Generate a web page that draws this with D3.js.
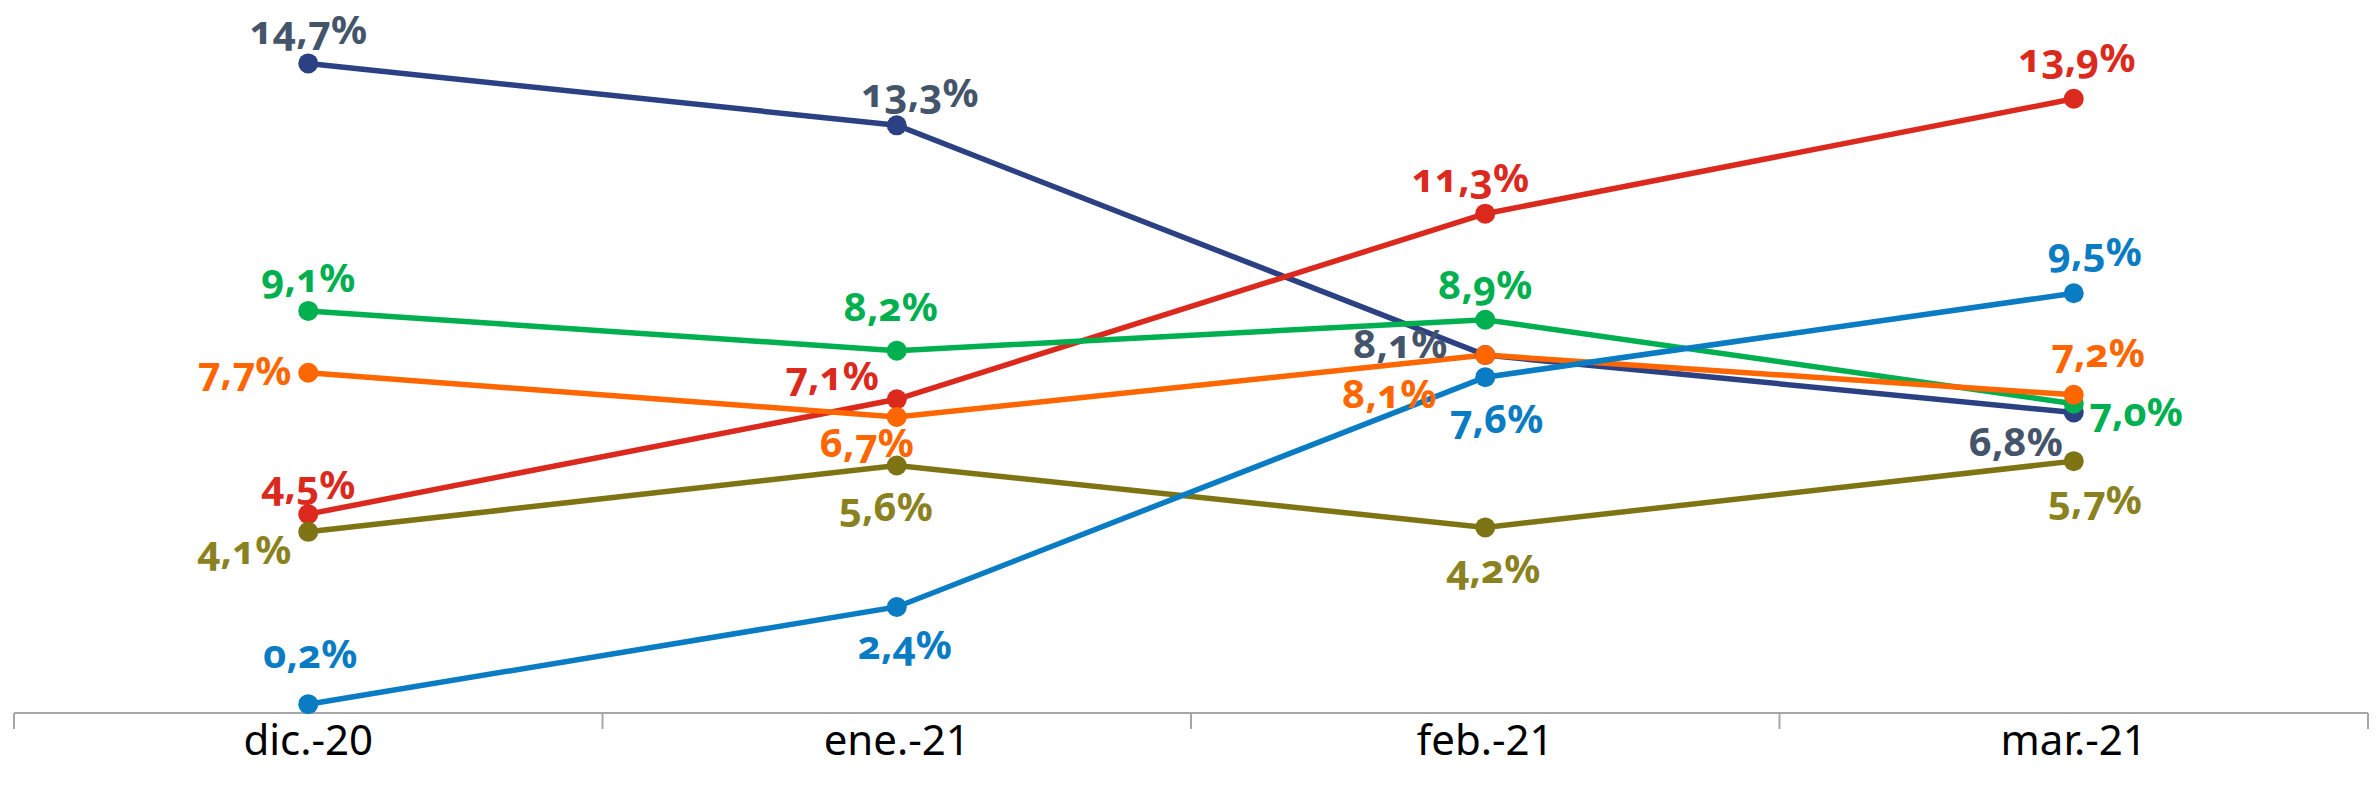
<!DOCTYPE html>
<html><head><meta charset="utf-8">
<script src="https://cdn.jsdelivr.net/npm/d3@7"></script>
<style>
html,body{margin:0;padding:0;background:#fff;}
svg{display:block;}
.lbl{font-family:"Noto Sans","Open Sans",sans-serif;font-weight:bold;font-feature-settings:"onum" 1;font-variant-numeric:oldstyle-nums;}
.ax{font-family:"Noto Sans","Open Sans",sans-serif;}
</style></head><body>
<script>
const categories = ["dic.-20","ene.-21","feb.-21","mar.-21"];
const navyValues   = [14.7, 13.3, 8.1, 6.8];
const redValues    = [4.5, 7.1, 11.3, 13.9];
const greenValues  = [9.1, 8.2, 8.9, 7.0];
const orangeValues = [7.7, 6.7, 8.1, 7.2];
const oliveValues  = [4.1, 5.6, 4.2, 5.7];
const blueValues   = [0.2, 2.4, 7.6, 9.5];
const lineColors  = ["#2b4183","#dc291e","#00b050","#ff6600","#7f7414","#0a7cc3"];
const labelColors = ["#44546a","#dc291e","#00b050","#ff6600","#8a8220","#0a7cc3"];
// label offsets from each point (layout only, not data): [dx, dy of text baseline]
const labelOffsets = [
  [[0,-19],[23,-18],[-85,3],[-58,43]],
  [[0,-15],[-65,-9],[-15,-22],[3,-27]],
  [[0,-19],[-6,-30],[0,-21],[62,22]],
  [[-64,12],[-30,40],[-96,53],[24,-28]],
  [[-64,32],[-11,55],[8,56],[21,53]],
  [[2,-36],[8,52],[11,56],[21,-27]]
];

const W = 2379, H = 796;
const series = [navyValues, redValues, greenValues, orangeValues, oliveValues, blueValues];

const svg = d3.select("body").append("svg").attr("width", W).attr("height", H);
const x = d3.scaleBand().domain(categories).range([14, 2368]).padding(0);
const y = d3.scaleLinear().domain([0, 16]).range([713, 6]);

const gx = svg.append("g").attr("transform", "translate(0,713)");
gx.append("line").attr("x1", 14).attr("x2", 2368).attr("stroke", "#a6a6a6").attr("stroke-width", 2);
const tickPos = categories.map(c => x(c)).concat([x.range()[1]]);
gx.selectAll("line.tk").data(tickPos).join("line").attr("class","tk")
  .attr("x1", d => d).attr("x2", d => d).attr("y1", 0).attr("y2", 16)
  .attr("stroke", "#a6a6a6").attr("stroke-width", 2);
gx.selectAll("text.ax").data(categories).join("text").attr("class","ax")
  .attr("x", d => x(d) + x.bandwidth()/2).attr("y", 42)
  .attr("text-anchor","middle").attr("font-size", 42).attr("fill", "#000").text(d => d);

const cx = c => x(c) + x.bandwidth()/2;
const line = d3.line().x((d,i) => cx(categories[i])).y(d => y(d));

series.forEach((vals, s) => {
  svg.append("path").datum(vals).attr("d", line)
    .attr("fill","none").attr("stroke", lineColors[s]).attr("stroke-width", 5.5);
});
series.forEach((vals, s) => {
  svg.selectAll("circle.s"+s).data(vals).join("circle")
    .attr("cx", (d,i) => cx(categories[i])).attr("cy", d => y(d)).attr("r", 10)
    .attr("fill", lineColors[s]);
});
const fmt = v => v.toFixed(1).replace(".", ",") + "%";
series.forEach((vals, s) => {
  svg.selectAll("text.l"+s).data(vals).join("text").attr("class","lbl")
    .attr("x", (d,i) => cx(categories[i]) + labelOffsets[s][i][0])
    .attr("y", (d,i) => y(d) + labelOffsets[s][i][1])
    .attr("text-anchor", "middle")
    .attr("font-size", 40).attr("fill", labelColors[s]).text(d => fmt(d));
});
</script></body></html>
